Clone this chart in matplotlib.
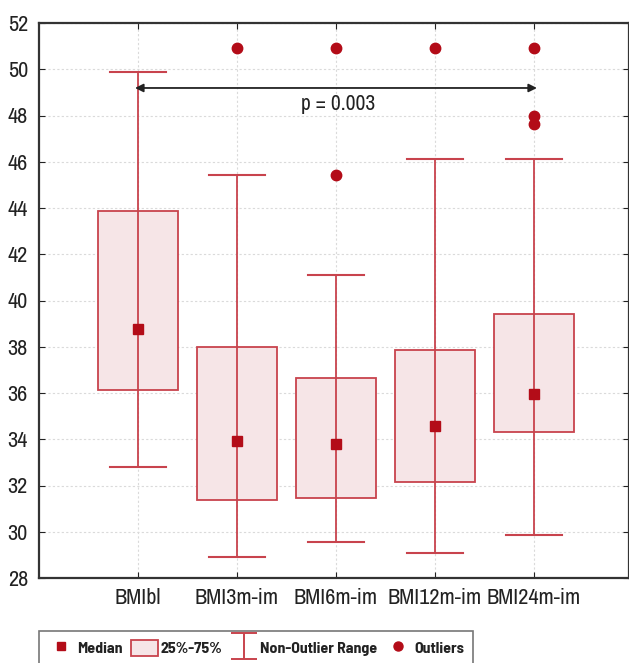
import matplotlib.pyplot as plt
from matplotlib.lines import Line2D
from matplotlib.patches import Patch, Rectangle
from matplotlib.path import Path

plt.rcParams['font.family'] = ['Liberation Sans Narrow', 'Nimbus Sans Narrow', 'Archivo Narrow', 'DejaVu Sans']

groups = ['BMIbl', 'BMI3m-im', 'BMI6m-im', 'BMI12m-im', 'BMI24m-im']
median = [38.77, 33.94, 33.81, 34.57, 35.95]
q25 = [36.14, 31.38, 31.45, 32.14, 34.31]
q75 = [43.87, 37.99, 36.65, 37.86, 39.42]
whisk_lo = [32.81, 28.90, 29.57, 29.07, 29.87]
whisk_hi = [49.88, 45.42, 41.10, 46.12, 46.12]
outliers = [[], [50.92], [50.92, 45.43], [50.92], [50.92, 48.0, 47.65]]
p_text = 'p = 0.003'
p_y = 49.19

red = '#B30C18'
box_edge = '#C8434D'
box_fill = '#F6E5E7'

fig = plt.figure(figsize=(6.29, 6.63), dpi=100)
ax = fig.add_axes([39/629, 1-578/663, 590/629, 555/663])

box_w = 0.8
cap_w = 0.57
for i, g in enumerate(groups):
    x = i + 1
    ax.add_patch(Rectangle((x - box_w/2, q25[i]), box_w, q75[i] - q25[i],
                           facecolor=box_fill, edgecolor=box_edge, lw=1.3, zorder=2))
    ax.plot([x, x], [whisk_lo[i], whisk_hi[i]], color=box_edge, lw=1.3, zorder=3)
    ax.plot([x - cap_w/2, x + cap_w/2], [whisk_hi[i]] * 2, color=box_edge, lw=1.5, zorder=3)
    ax.plot([x - cap_w/2, x + cap_w/2], [whisk_lo[i]] * 2, color=box_edge, lw=1.5, zorder=3)
    ax.plot(x, median[i], marker='s', ms=7.5, color=red, zorder=4)
    if outliers[i]:
        ax.plot([x] * len(outliers[i]), outliers[i], 'o', ms=7.5, color=red, zorder=4)

ax.annotate('', xy=(0.97, p_y), xytext=(5.03, p_y),
            arrowprops=dict(arrowstyle='<|-|>', color='#222222', lw=1.3,
                            mutation_scale=12, shrinkA=0, shrinkB=0), zorder=5)
ax.text(3.02, p_y - 0.25, p_text, ha='center', va='top', fontsize=15.5, color='#222222')

ax.set_xlim(0, 5.96)
ax.set_ylim(28, 52)
ax.set_xticks(range(1, 6))
ax.set_xticklabels(groups)
ax.set_yticks(range(28, 53, 2))
ax.tick_params(direction='in', top=True, right=True, labelsize=16, length=4,
               colors='#222222', pad=7)
ax.tick_params(axis='y', pad=8)
ax.grid(True, color='#DADADA', lw=0.8, ls=(0, (2, 2)), zorder=0)
ax.set_axisbelow(True)
for s in ax.spines.values():
    s.set_color('#333333')
    s.set_linewidth(1.6)

cap_path = Path([(-1, 1), (1, 1), (0, 1), (0, -1), (-1, -1), (1, -1)],
                [Path.MOVETO, Path.LINETO, Path.MOVETO, Path.LINETO, Path.MOVETO, Path.LINETO])
handles = [
    Line2D([], [], marker='s', ls='none', ms=6, color=red),
    Patch(facecolor=box_fill, edgecolor=box_edge, lw=1.3),
    Line2D([], [], marker=cap_path, ls='none', ms=19, mec=box_edge, mew=1.4, mfc='none'),
    Line2D([], [], marker='o', ls='none', ms=6.5, color=red),
]
labels = ['Median', '25%-75%', 'Non-Outlier Range', 'Outliers']
leg = fig.legend(handles, labels, loc='upper left', bbox_to_anchor=(39/629, 1-631/663),
                 ncol=4, frameon=True, fancybox=False, edgecolor='#555555',
                 prop={'family': ['Barlow Semi Condensed', 'DejaVu Sans'], 'weight': 'bold', 'size': 11.5},
                 handlelength=1.7, handleheight=1.15, handletextpad=0.15, columnspacing=0.5,
                 borderpad=0.55, borderaxespad=0)
leg.get_frame().set_linewidth(1.2)
for t in leg.get_texts():
    t.set_color('#222222')

fig.savefig('out.png', dpi=100)
